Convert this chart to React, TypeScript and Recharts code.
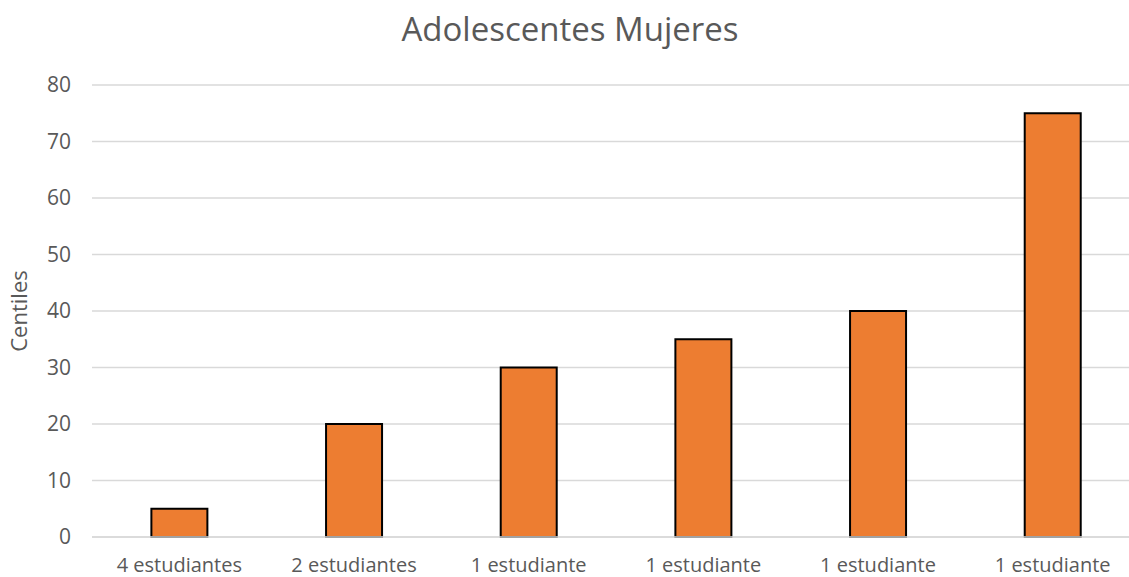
import { BarChart, Bar, XAxis, YAxis, CartesianGrid, Label } from 'recharts';

const categories = ['4 estudiantes', '2 estudiantes', '1 estudiante', '1 estudiante', '1 estudiante', '1 estudiante'];
const centiles = [5, 20, 30, 35, 40, 75];
const yTicks = [0, 10, 20, 30, 40, 50, 60, 70, 80];

const data = categories.map((name, i) => ({ idx: i, name, value: centiles[i] }));

const textColor = '#595959';
const font = '"Open Sans", sans-serif';

export default function App() {
  return (
    <div style={{ position: 'fixed', left: 0, top: 0, width: 1129, height: 577, overflow: 'hidden', background: '#fff' }}>
      <div
        style={{
          position: 'absolute',
          left: 0,
          width: 1140,
          top: 6,
          textAlign: 'center',
          fontFamily: font,
          fontSize: 33,
          color: textColor,
        }}
      >
        Adolescentes Mujeres
      </div>
      <BarChart
        width={1150}
        height={577}
        data={data}
        margin={{ top: 85, right: 10, left: 0, bottom: 0 }}
        barCategoryGap="34%"
      >
        <CartesianGrid stroke="#d9d9d9" strokeWidth={1.5} vertical={false} />
        <XAxis
          dataKey="idx"
          height={40}
          tickFormatter={(i: number) => categories[i]}
          axisLine={{ stroke: '#d9d9d9', strokeWidth: 1.5 }}
          tickLine={false}
          tick={{ fill: textColor, fontSize: 20, fontFamily: font }}
          tickMargin={15}
        />
        <YAxis
          width={92}
          domain={[0, 80]}
          ticks={yTicks}
          axisLine={false}
          tickLine={false}
          tick={{ fill: textColor, fontSize: 21, fontFamily: font }}
          tickMargin={15}
        >
          <Label
            value="Centiles"
            angle={-90}
            position="insideLeft"
            dx={14}
            style={{ fill: textColor, fontSize: 22, fontFamily: font, textAnchor: 'middle' }}
          />
        </YAxis>
        <Bar dataKey="value" fill="#ED7D31" stroke="#000" strokeWidth={2} isAnimationActive={false} />
      </BarChart>
    </div>
  );
}
